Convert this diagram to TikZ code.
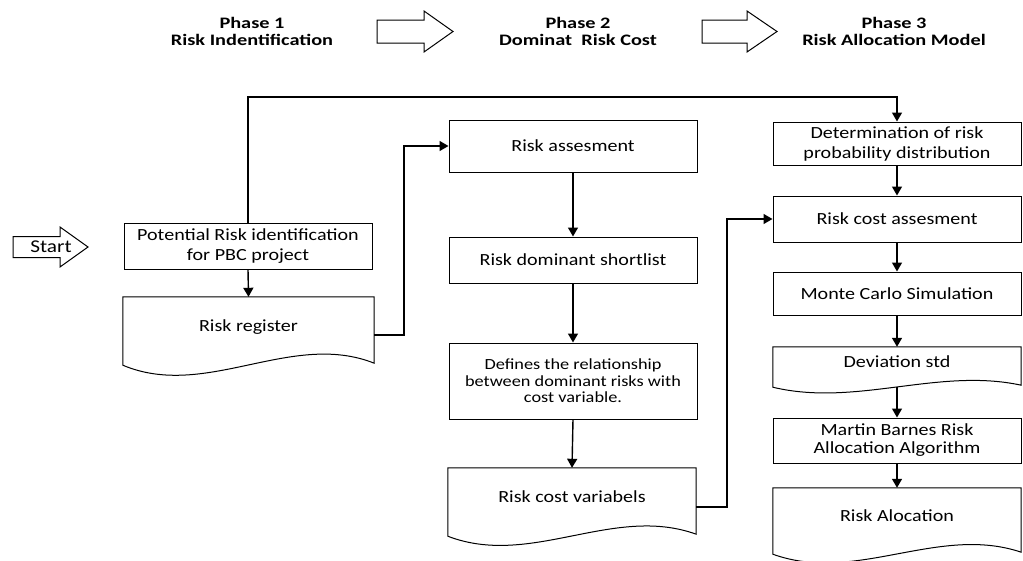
\documentclass[tikz,border=0pt]{standalone}
\usepackage{fontspec}
\setmainfont{Carlito}
\newfontfamily\bodyfont[FakeStretch=1.18]{Carlito}
\newfontfamily\headfont[FakeStretch=1.27]{Carlito}
\usetikzlibrary{arrows.meta,calc}
\tikzset{
  box/.style={draw, line width=1pt, rectangle, inner sep=0pt, align=center,
    font=\bodyfont\fontsize{17}{20}\selectfont},
  smallbox/.style={box, font=\bodyfont\fontsize{15.5}{16.5}\selectfont},
  docnode/.style={rectangle, inner sep=0pt, align=center, text height=12pt, text depth=12pt,
    font=\bodyfont\fontsize{17}{20}\selectfont},
  head/.style={align=center, inner sep=0pt, font=\headfont\bfseries\fontsize{16}{17}\selectfont},
  arr/.style={line width=1.4pt, -{Triangle[width=10pt,length=9pt]}},
  shapeline/.style={draw, line width=1pt, fill=white},
}
\newcommand{\docshape}[2]{%
  \draw[shapeline] (#1.north west) -- (#1.north east) -- ($(#1.south east)+(0,-2)$)
    .. controls ($(#1.south east)+(-83,-#2)$) and ($(#1.south west)+(83,#2)$) .. (#1.south west) -- cycle;}
\begin{document}
\begin{tikzpicture}[x=1pt,y=-1pt]
\useasboundingbox (0,0) rectangle (1023,560);

% headers
\node[head] (p1) at (252,31) {Phase 1\\Risk Indentification};
\node[head] (p2) at (578,31) {Phase 2\\Dominat\ \ Risk Cost};
\node[head] (p3) at (894,31) {Phase 3\\Risk Allocation Model};
\draw[shapeline] (377,20) -- (424,20) -- (424,11) -- (453,31.5) -- (424,52) -- (424,43) -- (377,43) -- cycle;
\draw[shapeline] (702,20) -- (747,20) -- (747,11) -- (777,31.5) -- (747,52) -- (747,43) -- (702,43) -- cycle;

% start arrow
\draw[shapeline] (13,236.5) -- (60,236.5) -- (60,227) -- (88,247) -- (60,267) -- (60,257.5) -- (13,257.5) -- cycle;
\node[font=\bodyfont\fontsize{18}{20}\selectfont, inner sep=0pt] (start) at (51,247) {Start};

% phase 1
\node[box, minimum width=248, minimum height=46] (pot) at (248,246) {Potential Risk identification\\for PBC project};
\node[docnode, minimum width=251, minimum height=68] (reg) at (248.5,331) {Risk register};
\docshape{reg}{35}
\node[docnode, minimum width=251, minimum height=68] at (248.5,331) {Risk register};

% phase 2
\node[box, minimum width=248, minimum height=52] (ra) at (573,146) {Risk assesment};
\node[box, minimum width=248, minimum height=46] (rds) at (573,260) {Risk dominant shortlist};
\node[smallbox, minimum width=248, minimum height=76] (def) at (573,381) {Defines the relationship\\between dominant risks with\\cost variable.};
\node[docnode, minimum width=248, minimum height=68] (rcv) at (572,502) {Risk cost variabels};
\docshape{rcv}{32}
\node[docnode, minimum width=248, minimum height=68] at (572,502) {Risk cost variabels};

% phase 3
\node[box, minimum width=248, minimum height=43] (det) at (897,143.5) {Determination of risk\\probability distribution};
\node[box, minimum width=248, minimum height=46] (rca) at (897,219) {Risk cost assesment};
\node[box, minimum width=248, minimum height=43] (mc) at (897,293.5) {Monte Carlo Simulation};
\node[docnode, minimum width=248, minimum height=40] (dev) at (897,367) {Deviation std};
\docshape{dev}{20}
\node[docnode, minimum width=248, minimum height=40] at (897,367) {Deviation std};
\node[box, minimum width=248, minimum height=45, font=\bodyfont\fontsize{17}{18}\selectfont] (mb) at (897,440.5) {Martin Barnes Risk\\Allocation Algorithm};
\node[docnode, minimum width=248, minimum height=66] (ral) at (897,521) {Risk Alocation};
\docshape{ral}{30}
\node[docnode, minimum width=248, minimum height=66] at (897,521) {Risk Alocation};

% connectors
\coordinate (tl) at (0,97);
\coordinate (c1) at (404,0);
\coordinate (c2) at (727,0);
\draw[arr] (pot.north) -- (pot.north |- tl) -| (det.north);
\draw[arr] (pot.south) -- (reg.north);
\draw[arr] ($(reg.east)+(0,4)$) -| (c1 |- ra.west) -- (ra.west);
\draw[arr] (ra.south) -- (rds.north);
\draw[arr] (rds.south) -- (def.north);
\draw[arr] (def.south) -- (rcv.north);
\draw[arr] ($(rcv.east)+(0,5)$) -| (c2 |- rca.west) -- (rca.west);
\draw[arr] (det.south) -- (rca.north);
\draw[arr] (rca.south) -- (mc.north);
\draw[arr] (mc.south) -- (dev.north);
\draw[arr] (dev.south) -- (mb.north);
\draw[arr] (mb.south) -- (ral.north);
\end{tikzpicture}
\end{document}
